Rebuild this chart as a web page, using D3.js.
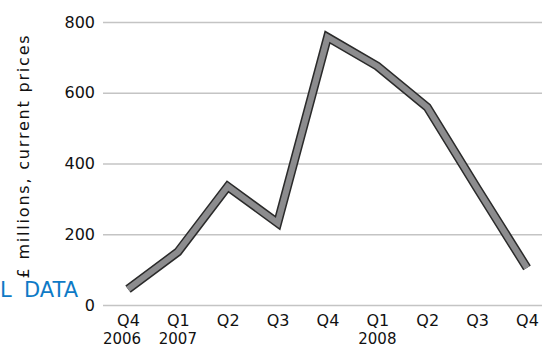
<!DOCTYPE html>
<html>
<head>
<meta charset="utf-8">
<script src="https://cdn.jsdelivr.net/npm/d3@7"></script>
<style>
  html, body { margin: 0; padding: 0; background: #fff; }
  svg { display: block; }
  text { font-family: "DejaVu Sans", sans-serif; fill: #111; }
</style>
</head>
<body>
<svg id="chart" width="542" height="349"></svg>
<script>
// Quarterly values, £ millions at current prices
const quarters = ["Q4", "Q1", "Q2", "Q3", "Q4", "Q1", "Q2", "Q3", "Q4"];
const years = [
  { label: "2006", index: 0, dx: -6 },
  { label: "2007", index: 1, dx: 0 },
  { label: "2008", index: 5, dx: 0 }
];
const values = [45, 150, 335, 232, 757, 675, 559, 330, 105];
const yTicks = [0, 200, 400, 600, 800];

const svg = d3.select("#chart");
const W = 542, H = 349;

const x = d3.scalePoint()
  .domain(d3.range(quarters.length))
  .range([128, 527]);

const y = d3.scaleLinear()
  .domain([0, 800])
  .range([305, 22]);

// Horizontal gridlines and value labels
const yAxis = d3.axisLeft(y)
  .tickValues(yTicks)
  .tickSize(-(W - 103))
  .tickPadding(8)
  .tickFormat(d3.format("d"));

const gy = svg.append("g")
  .attr("transform", "translate(103,0)")
  .call(yAxis);
gy.select(".domain").remove();
gy.selectAll(".tick line")
  .attr("stroke", "#c4c4c4")
  .attr("stroke-width", 1.6);
gy.selectAll(".tick text")
  .attr("font-size", 16)
  .attr("fill", "#111")
  .attr("font-family", "DejaVu Sans, sans-serif");

// Quarter labels along the bottom
const xAxis = d3.axisBottom(x)
  .tickSize(0)
  .tickPadding(10)
  .tickFormat(i => quarters[i]);
const gx = svg.append("g")
  .attr("transform", "translate(0,305)")
  .call(xAxis);
gx.select(".domain").remove();
gx.selectAll(".tick text")
  .attr("font-size", 16)
  .attr("fill", "#111")
  .attr("font-family", "DejaVu Sans, sans-serif");

// Year labels under the first quarter of each year
svg.append("g").selectAll("text")
  .data(years)
  .join("text")
  .attr("x", d => x(d.index) + d.dx)
  .attr("y", 344)
  .attr("text-anchor", "middle")
  .attr("font-size", 15)
  .text(d => d.label);

// Series line: dark outline with grey core
const line = d3.line()
  .x((d, i) => x(i))
  .y(d => y(d))
  .curve(d3.curveLinear);

svg.append("path")
  .datum(values)
  .attr("d", line)
  .attr("fill", "none")
  .attr("stroke", "#2a2a2a")
  .attr("stroke-width", 9)
  .attr("stroke-linejoin", "miter");
svg.append("path")
  .datum(values)
  .attr("d", line)
  .attr("fill", "none")
  .attr("stroke", "#8c8c8e")
  .attr("stroke-width", 6)
  .attr("stroke-linejoin", "miter");

// Axis title
svg.append("text")
  .attr("transform", "translate(29,156) rotate(-90)")
  .attr("text-anchor", "middle")
  .attr("font-size", 16)
  .attr("letter-spacing", 1.8)
  .attr("fill", "#111")
  .text("£ millions, current prices");

// Blue caption overlay at the lower left
const cap = svg.append("text")
  .attr("y", 297)
  .attr("font-family", "Open Sans, sans-serif")
  .attr("font-size", 21)
  .style("fill", "#0e7ac6");
cap.append("tspan").attr("x", 0).text("L");
cap.append("tspan").attr("x", 24).text("DATA");
</script>
</body>
</html>
